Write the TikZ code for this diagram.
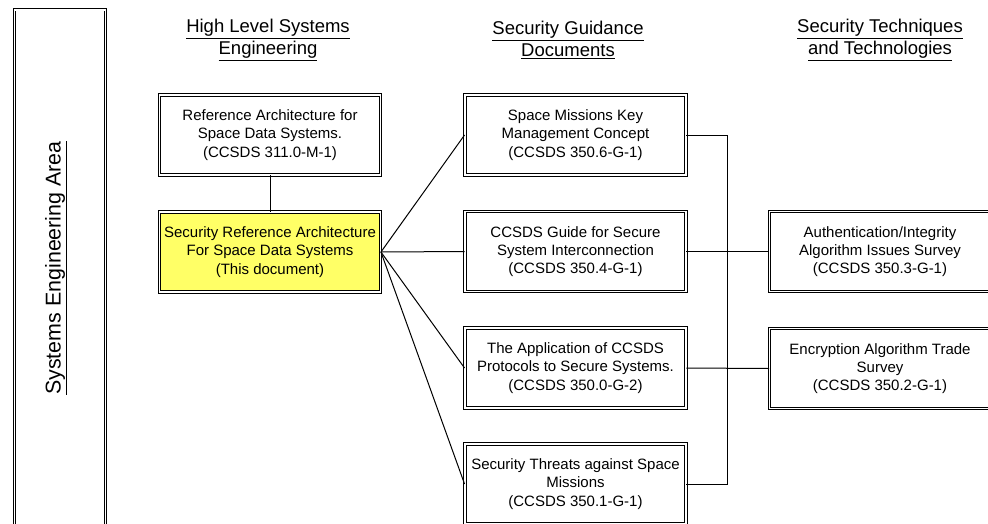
\documentclass[tikz,border=0pt]{standalone}
\usepackage{fontspec}
\setmainfont{Liberation Sans}
\usepackage{tikz}
\usetikzlibrary{positioning}
\definecolor{docyellow}{RGB}{255,255,102}
\newcommand{\boxfont}{\fontsize{15}{18.3}\selectfont}
\newcommand{\headfont}{\fontsize{18.5}{22}\selectfont}
\tikzset{
  docbox/.style={draw, double, double distance=1.5pt, line width=0.9pt, fill=white,
    minimum width=221pt, minimum height=80pt, inner sep=0pt, align=center, font=\boxfont},
  heading/.style={align=center, font=\headfont, inner sep=0pt},
  link/.style={line width=1pt}
}

\begin{document}
\begin{tikzpicture}[x=1pt, y=-1pt]

  \useasboundingbox (0,0) rectangle (988,523);

  % area frame
  \node[draw, double, double distance=1.5pt, line width=0.9pt, minimum width=90.6pt,
    minimum height=530pt, inner sep=0pt] (area) at (60,274.8) {};
  \node[rotate=90, font=\fontsize{21.4}{24}\selectfont, inner sep=0pt] (areatext) at (56,268)
    {\underline{Systems Engineering Area}};

  % headings
  \node[heading] (hlse) at (268,40) {\underline{High Level Systems}\\\underline{Engineering}};
  \node[heading] (sgd) at (568,40) {\underline{Security Guidance}\\\underline{Documents}};
  \node[heading] (stt) at (880,40) {\underline{Security Techniques}\\\underline{and Technologies}};

  % high level systems engineering
  \node[docbox] (ra) at (270,135)
    {Reference Architecture for\\Space Data Systems.\\(CCSDS 311.0-M-1)};
  \node[docbox, fill=docyellow] (sra) at (270,252)
    {Security Reference Architecture\\For Space Data Systems\\(This document)};

  % guidance documents
  \node[docbox] (km) at (575.5,135)
    {Space Missions Key\\Management Concept\\(CCSDS 350.6-G-1)};
  \node[docbox] (ssi) at (575.5,251.5)
    {CCSDS Guide for Secure\\System Interconnection\\(CCSDS 350.4-G-1)};
  \node[docbox] (app) at (575.5,368)
    {The Application of CCSDS\\Protocols to Secure Systems.\\(CCSDS 350.0-G-2)};
  \node[docbox] (thr) at (575.5,484)
    {Security Threats against Space\\Missions\\(CCSDS 350.1-G-1)};

  % techniques and technologies
  \node[docbox] (auth) at (880,251.5)
    {Authentication/Integrity\\Algorithm Issues Survey\\(CCSDS 350.3-G-1)};
  \node[docbox] (enc) at (880,368.5)
    {Encryption Algorithm Trade\\Survey\\(CCSDS 350.2-G-1)};

  % connectors
  \draw[link] (ra.south) -- (sra.north);
  \foreach \d in {km,ssi,app,thr}
    \draw[link] (sra.east) -- (\d.west);

  \coordinate (bus) at (727,0);
  \draw[link] (km.east) -- (km.east -| bus) -- (thr.east -| bus) -- (thr.east);
  \draw[link] (ssi.east) -- (auth.west);
  \draw[link] (app.east) -- (enc.west);

\end{tikzpicture}
\end{document}
